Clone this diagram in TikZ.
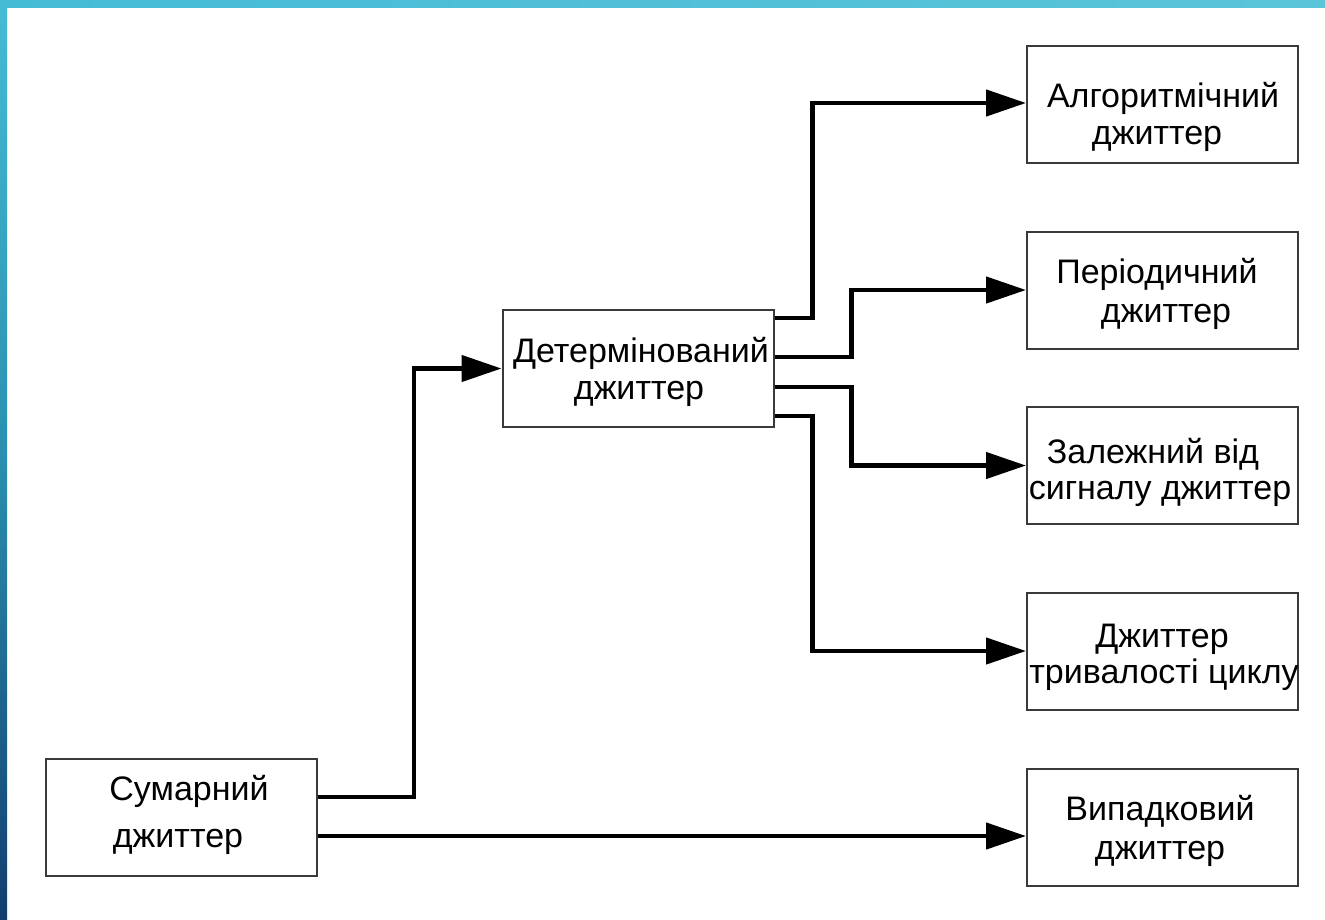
\documentclass[tikz,border=0pt]{standalone}
\usepackage{fontspec}
\setmainfont{Liberation Sans}
\usetikzlibrary{arrows.meta,calc}
\definecolor{barcyan}{HTML}{45BCD6}
\definecolor{barcyanR}{HTML}{5BC4D9}
\definecolor{barmid}{HTML}{2A8FB0}
\definecolor{bardark}{HTML}{123E6E}
\definecolor{boxline}{HTML}{3A3A3A}
\tikzset{
  blk/.style={draw=boxline, line width=2pt, fill=white, minimum width=271pt, minimum height=117pt, inner sep=0pt},
  lbl/.style={anchor=base, inner sep=0pt, font=\fontsize{34pt}{40pt}\selectfont, text=black},
  conn/.style={line width=4.5pt, black, -{Triangle[length=40pt,width=26pt]}},
}
\begin{document}
\begin{tikzpicture}[x=1pt,y=-1pt]
\useasboundingbox (0,0) rectangle (1325,919);
\fill[white] (0,0) rectangle (1325,919);
% frame bars
\shade[left color=barcyan, right color=barcyanR] (0,0) rectangle (1325,7);
\shade[top color=barcyan, bottom color=bardark, middle color=barmid] (0,0) rectangle (7,919);

% boxes
\node[blk] (sum) at (181.5,817) {};
\node[blk] (det) at (638,368.5) {};
\node[blk] (alg) at (1162.5,104.5) {};
\node[blk] (per) at (1162.5,290) {};
\node[blk] (zal) at (1162.5,465.5) {};
\node[blk] (trv) at (1162.5,651) {};
\node[blk] (vyp) at (1162.5,827) {};

% labels
\node[lbl] (sum1) at (189,800) {Сумарний};
\node[lbl] (sum2) at (178,847) {джиттер};
\node[lbl] (det1) at (641,362) {Детермінований};
\node[lbl] (det2) at (639,399) {джиттер};
\node[lbl] (alg1) at (1163,107) {Алгоритмічний};
\node[lbl] (alg2) at (1157,144) {джиттер};
\node[lbl] (per1) at (1157,283) {Періодичний};
\node[lbl] (per2) at (1166,322) {джиттер};
\node[lbl] (zal1) at (1153,463) {Залежний від};
\node[lbl] (zal2) at (1160,499) {сигналу джиттер};
\node[lbl] (trv1) at (1162,647) {Джиттер};
\node[lbl] (trv2) at (1164,683) {тривалості циклу};
\node[lbl] (vyp1) at (1160,820) {Випадковий};
\node[lbl] (vyp2) at (1160,859) {джиттер};

% connectors
\draw[conn] (sum.east |- 0,797) -- ++(96,0) |- (det.west);
\draw[conn] (sum.east |- 0,836) -- (vyp.west |- 0,836);
\draw[conn] (det.east |- 0,318) -- ++(38,0) |- (alg.west |- 0,103);
\draw[conn] (det.east |- 0,357) -- ++(77,0) |- (per.west);
\draw[conn] (det.east |- 0,387) -- ++(77,0) |- (zal.west);
\draw[conn] (det.east |- 0,416) -- ++(38,0) |- (trv.west);
\end{tikzpicture}
\end{document}
